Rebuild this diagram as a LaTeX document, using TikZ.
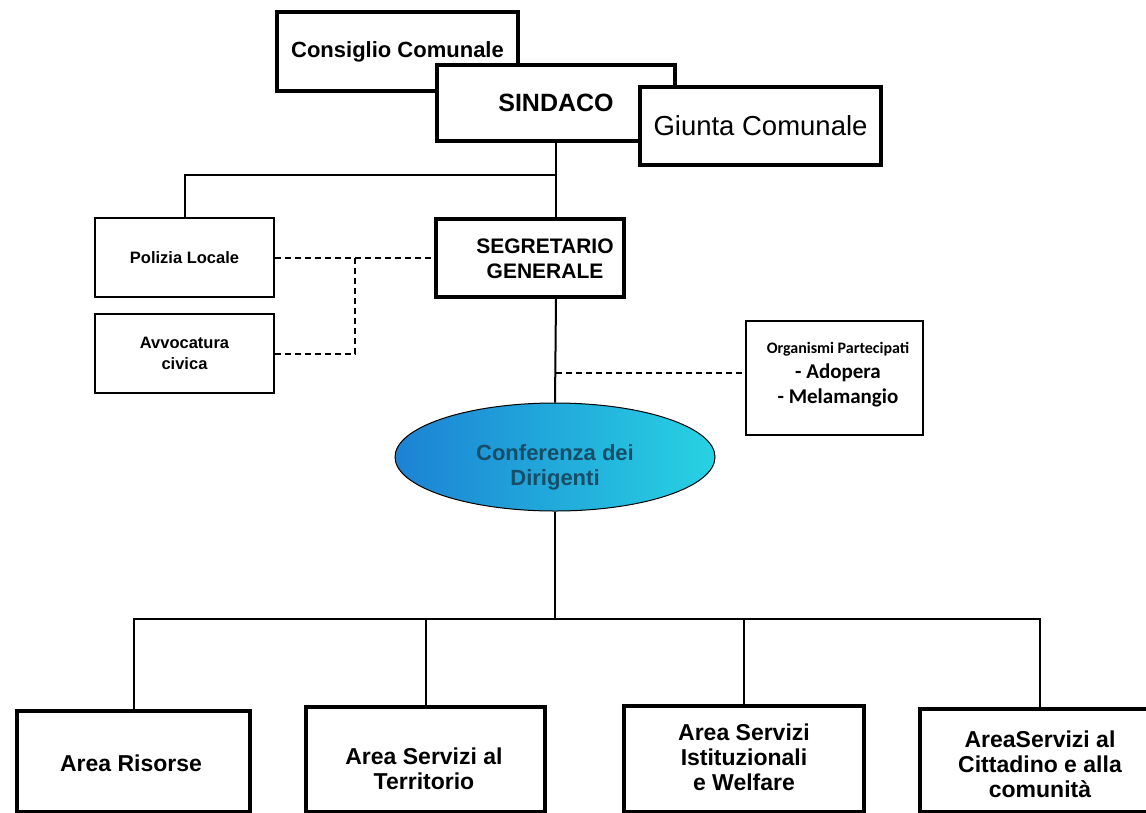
\documentclass[tikz,border=0pt]{standalone}
\usepackage{fontspec}
\setmainfont{Liberation Sans}
\newfontfamily\orgfont{Carlito}
\usetikzlibrary{shapes.geometric}
\definecolor{confleft}{RGB}{28,130,212}
\definecolor{confright}{RGB}{40,210,226}
\definecolor{conftext}{RGB}{22,78,104}

\begin{document}
\begin{tikzpicture}
        [x=1pt, y=-1pt,
        box/.style={draw, fill=white, line width=3.5pt, inner sep=0pt, align=center},
        smallbox/.style={draw, fill=white, line width=2pt, inner sep=0pt, align=center,
            minimum width=179pt, minimum height=79pt, font=\bfseries\fontsize{16.5}{21}\selectfont},
        areabox/.style={draw, fill=white, line width=4.5pt, inner sep=0pt},
        arealabel/.style={align=center, inner sep=0pt, font=\bfseries\fontsize{23}{25}\selectfont},
        conn/.style={line width=2pt},
        dashline/.style={line width=2pt, dash pattern=on 6pt off 4pt}]

        \clip (0,0) rectangle (1146,812);

        % top boxes
        \node[box, minimum width=241pt, minimum height=79pt, font=\bfseries\fontsize{22}{24}\selectfont]
            (consiglio) at (397.5,51.5) {Consiglio Comunale};
        \node[box, minimum width=238pt, minimum height=76pt, font=\bfseries\fontsize{25}{27}\selectfont]
            (sindaco) at (556,103) {SINDACO};
        \node[box, minimum width=241pt, minimum height=78pt, font=\fontsize{27.5}{30}\selectfont]
            (giunta) at (760.5,126) {Giunta Comunale};

        % staff
        \node[smallbox] (polizia) at (184.5,257.5) {Polizia Locale};
        \node[smallbox] (avvocatura) at (184.5,353.5) {Avvocatura\\civica};
        \node[box, minimum width=188pt, minimum height=78pt] (segretario) at (530,258) {};
        \node[align=center, inner sep=0pt, font=\bfseries\fontsize{21}{25}\selectfont]
            (segretariotext) at (545,259) {SEGRETARIO\\GENERALE};

        \node[draw, fill=white, line width=2pt, inner sep=0pt, minimum width=177pt, minimum height=114pt]
            (organismi) at (834.5,378) {};
        \node[align=center, inner sep=0pt, font=\orgfont\bfseries\fontsize{21}{25}\selectfont]
            (organismitext) at (838,375) {{\fontsize{16}{25}\selectfont Organismi Partecipati}\\
            - Adopera\\- Melamangio};

        % conferenza
        \node[ellipse, draw, line width=1pt, left color=confleft, right color=confright,
            minimum width=320pt, minimum height=108pt] (conferenza) at (555,457) {};
        \node[align=center, inner sep=0pt, text=conftext, font=\bfseries\fontsize{22}{25}\selectfont]
            (conferenzatext) at (555,467) {Conferenza dei\\Dirigenti};

        % areas
        \node[areabox, minimum width=233pt, minimum height=101pt] (risorse) at (133.5,761.5) {};
        \node[areabox, minimum width=239pt, minimum height=105pt] (territorio) at (425.5,759.5) {};
        \node[areabox, minimum width=240pt, minimum height=106pt] (welfare) at (744,759) {};
        \node[areabox, minimum width=240pt, minimum height=103pt] (cittadino) at (1040,760.5) {};
        \node[arealabel] (risorsetext) at (131,763) {Area Risorse};
        \node[arealabel] (territoriotext) at (424,769) {Area Servizi al\\Territorio};
        \node[arealabel] (welfaretext) at (744,757) {Area Servizi\\Istituzionali\\e Welfare};
        \node[arealabel] (cittadinotext) at (1040,764) {AreaServizi al\\Cittadino e alla\\comunità};

        % connectors
        \coordinate (jtop) at (556,175);
        \coordinate (jleg) at (355,258);
        \coordinate (jorg) at (556,373);
        \coordinate (jbot) at (555,619);

        \draw[conn] (sindaco.south) -- (sindaco.south |- segretario.north);
        \draw[conn] (polizia.north) |- (jtop);
        \draw[conn] (sindaco.south |- segretario.south) -- (conferenza.north);
        \draw[dashline] (polizia.east) -- (polizia.east -| segretario.west);
        \draw[dashline] (avvocatura.east) -| (jleg);
        \draw[dashline] (jorg) -- (jorg -| organismi.west);

        \draw[conn] (conferenza.south) -- (jbot);
        \draw[conn] (risorse.north) |- (jbot) -| (cittadino.north);
        \draw[conn] (territorio.north) -- (territorio.north |- jbot);
        \draw[conn] (welfare.north) -- (welfare.north |- jbot);
    \end{tikzpicture}
\end{document}
